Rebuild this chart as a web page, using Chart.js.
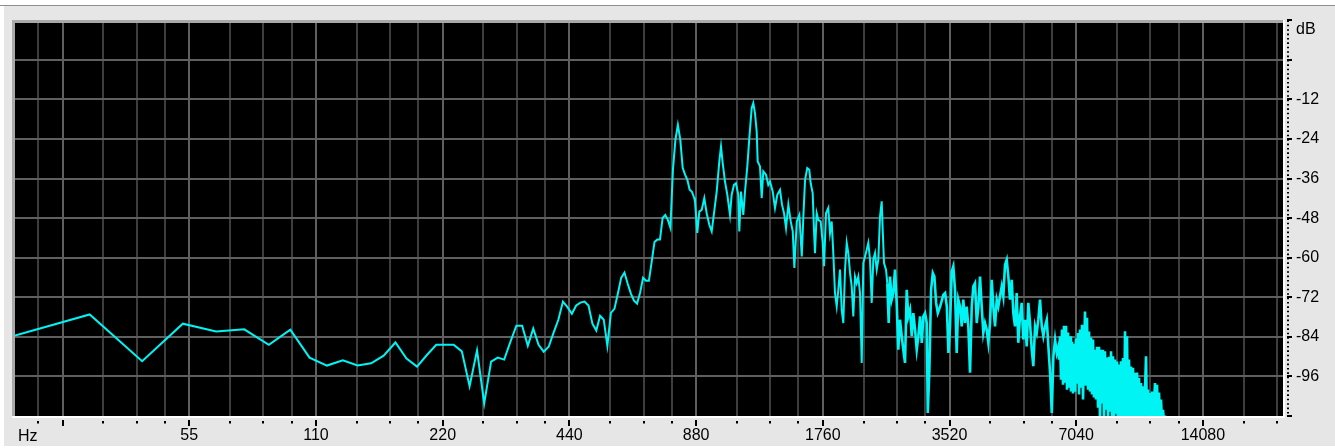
<!DOCTYPE html>
<html>
<head>
<meta charset="utf-8">
<script src="https://cdn.jsdelivr.net/npm/chart.js@4.4.1/dist/chart.umd.min.js"></script>
<style>
  html, body { margin: 0; padding: 0; background: #ffffff; overflow: hidden; }
  #wrap { width: 1335px; height: 448px; }
</style>
</head>
<body>
<div id="wrap"><canvas id="spectrum" width="1335" height="448"></canvas></div>
<script>
// Spectrum: frequency (Hz) and level (dB)
const freqHz = [
  21.2, 31.9, 42.5, 53.1, 63.7, 74.3, 85.0, 95.6, 106.2, 116.8,
  127.4, 138.1, 148.7, 159.3, 169.9, 180.5, 191.2, 201.8, 212.4, 223.0,
  233.6, 244.3, 254.9, 265.5, 276.1, 286.7, 297.4, 308.0, 318.6, 329.2,
  339.8, 350.5, 361.1, 371.7, 382.3, 392.9, 403.6, 414.2, 424.8, 435.4,
  446.0, 456.7, 467.3, 477.9, 488.5, 499.1, 509.8, 520.4, 531.0, 541.6,
  552.2, 562.9, 573.5, 584.1, 594.7, 605.3, 616.0, 626.6, 637.2, 647.8,
  658.4, 669.1, 679.7, 690.3, 700.9, 711.5, 722.2, 732.8, 743.4, 754.0,
  764.6, 775.3, 785.9, 796.5, 807.1, 817.7, 828.4, 839.0, 849.6, 860.2,
  870.8,
  874.7, 885.8, 895.6, 907.4, 920.4, 932.5, 945.9, 958.5, 970.6, 985.1,
  999.2, 1008.5, 1017.9, 1030.7, 1043.9, 1059.3, 1069.1, 1082.7, 1094.6, 1108.5,
  1114.6, 1125.1, 1139.3, 1150.0, 1164.6, 1177.4, 1192.9, 1203.4, 1214.6, 1225.9,
  1232.6, 1248.2, 1259.9, 1271.0, 1289.8, 1306.2, 1318.4, 1338.0, 1355.0, 1372.2,
  1392.7, 1408.0, 1423.6, 1439.3, 1457.6, 1476.9, 1493.2, 1506.4, 1526.3, 1548.2,
  1568.6, 1582.4, 1597.2, 1616.6, 1634.5, 1647.1, 1665.2, 1677.1, 1686.3, 1702.1,
  1717.1, 1739.8, 1759.0, 1771.6, 1791.2, 1813.7, 1830.8, 1847.8, 1864.0, 1881.4,
  1899.0, 1915.8, 1933.7, 1951.8, 1969.1, 1987.6, 2006.0, 2023.8, 2042.8, 2061.5,
  2079.6, 2099.0, 2118.5, 2137.2, 2157.2, 2177.5, 2196.7, 2217.1, 2237.8, 2257.6,
  2278.7, 2300.0, 2320.2, 2341.9, 2363.7, 2384.6, 2406.8, 2429.2, 2442.5, 2460.0,
  2486.9, 2504.7, 2523.8, 2542.0, 2565.6, 2588.3, 2612.4, 2636.8, 2660.1, 2685.1,
  2710.0, 2734.0, 2759.7, 2785.4, 2809.8, 2836.2, 2862.8, 2888.0, 2915.3, 2942.5,
  2968.4, 2996.2, 3024.4, 3051.0, 3079.5, 3108.3, 3125.4, 3152.9, 3182.4, 3212.2,
  3240.5, 3271.0, 3301.6, 3343.5, 3404.7, 3436.6, 3468.8, 3499.4, 3529.6, 3562.6,
  3593.9, 3627.4, 3661.5, 3693.5, 3728.0, 3762.9, 3796.0, 3831.5, 3867.4, 3901.6,
  3938.2, 3975.1, 4010.0, 4047.6, 4085.7, 4121.6, 4159.2, 4198.0, 4234.9, 4274.3,
  4314.5, 4352.8, 4393.3, 4434.1, 4473.6, 4515.1, 4557.3, 4597.5, 4640.4, 4683.7,
  4724.9, 4769.2, 4813.6, 4856.5, 4900.9, 4947.0, 4990.7, 5037.1, 5083.9, 5128.6,
  5176.5, 5224.7, 5270.8, 5320.1, 5370.1, 5417.3, 5468.0, 5519.4, 5567.9, 5619.7,
  5672.5, 5722.1, 5776.0, 5830.5, 5881.9, 5936.8, 5992.4, 6045.6, 6101.9, 6158.9,
  6213.2, 6271.2, 6329.7, 6385.3,
  6408, 6443, 6478, 6514, 6549, 6585, 6622, 6658, 6694, 6731,
  6768, 6805, 6842, 6880, 6918, 6956, 6994, 7032, 7071, 7110,
  7149, 7188, 7227, 7267, 7307, 7387, 7428, 7468, 7509, 7551,
  7592, 7634, 7676, 7718, 7760, 7803, 7845, 7888, 7932, 7975,
  8019, 8063, 8107, 8152, 8196, 8241, 8287, 8332, 8378, 8424,
  8470, 8517, 8563, 8610, 8657, 8705, 8753, 8801, 8849, 8898,
  8946, 8995, 9045, 9094, 9144, 9195, 9245, 9295, 9346, 9398,
  9449, 9501, 9553, 9606, 9658, 9711, 9765, 9818, 9872, 9926,
  9981, 10035, 10091, 10146, 10202, 10314, 10370, 10427, 10484, 10542,
  10600, 10658, 10717, 10834, 10894, 10954, 11014, 11074, 11135, 11196,
  11257, 11319, 11381, 11444, 11506
];

const levelDb = [
  -83.6, -77.2, -91.4, -80.0, -82.4, -81.7, -86.4, -81.8, -90.3, -92.7,
  -91.1, -92.7, -92.0, -89.7, -85.7, -90.6, -93.0, -89.5, -86.4, -86.4,
  -86.4, -88.4, -99.0, -88.1, -104.2, -91.5, -90.3, -90.9, -85.5, -80.6,
  -80.6, -86.7, -81.5, -86.4, -88.5, -87.0, -82.7, -78.8, -73.3, -75.0,
  -77.0, -74.5, -73.6, -73.3, -74.5, -80.0, -82.1, -77.6, -78.8, -86.7,
  -76.7, -75.5, -70.9, -66.1, -64.5, -67.9, -70.9, -73.0, -73.9, -70.6,
  -66.1, -67.0, -67.0, -61.2, -55.2, -54.5, -54.5, -47.9, -47.0, -48.5,
  -50.9, -33.3, -24.2, -19.7, -24.2, -32.7, -34.8, -36.4, -39.4, -40.0,
  -41.8,
  -42.9, -52.5, -46.0, -45.5, -41.9, -46.5, -50.0, -52.0, -46.5, -39.9,
  -30.8, -26.3, -31.3, -36.9, -40.9, -47.0, -40.9, -37.9, -37.4, -40.9,
  -52.0, -39.9, -47.0, -39.9, -32.3, -23.7, -14.6, -13.1, -16.2, -21.7,
  -30.8, -32.3, -41.9, -33.8, -34.8, -37.9, -36.9, -39.9, -44.9, -40.9,
  -39.4, -43.9, -46.5, -51.0, -43.9, -49.0, -52.0, -63.1, -49.0, -47.0,
  -59.6, -47.5, -36.4, -32.8, -33.3, -37.4, -40.4, -51.5, -58.6, -46.5,
  -48.5, -49.0, -55.5, -62.6, -46.5, -44.9, -52.5, -49.0, -58.6, -70.7,
  -74.8, -69.7, -63.6, -75.8, -79.8, -63.6, -55.5, -58.6, -64.6, -68.7,
  -77.8, -65.7, -67.7, -65.7, -70.7, -91.9, -61.6, -59.6, -57.6, -55.5,
  -60.6, -73.7, -60.6, -58.6, -63.6, -60.6, -47.5, -42.9, -51.5, -61.6,
  -63.6, -67.7, -79.8, -65.7, -72.7, -70.7, -63.6, -73.7, -87.9, -78.8,
  -83.8, -87.9, -91.9, -69.7, -77.8, -75.8, -83.8, -76.8, -81.8, -87.9,
  -83.8, -77.8, -85.8, -77.8, -76.8, -79.8, -107.1, -93.9, -69.7, -64.6,
  -65.7, -73.7, -76.8, -74.8, -71.2, -70.7, -74.8, -88.9, -80.8, -64.2,
  -62.6, -69.7, -88.9, -72.7, -74.8, -80.8, -72.7, -79.8, -74.8, -80.8,
  -94.9, -74.8, -68.7, -67.7, -79.8, -74.8, -65.7, -74.8, -82.8, -79.8,
  -81.8, -85.8, -79.8, -66.7, -74.8, -80.8, -72.7, -74.8, -71.7, -68.7,
  -71.7, -62.1, -60.6, -65.7, -72.7, -66.7, -76.8, -80.8, -70.7, -85.8,
  -77.8, -73.7, -84.8, -78.8, -86.9, -73.7, -79.8, -87.9, -92.9, -80.8,
  -82.8, -78.8, -72.7, -80.8, -83.8, -80.8, -78.8, -86.9, -94.9, -107.1,
  -89.9, -84.8, -88.9, -86.9,
  -90.9, -83.8, -97.0, -81.8, -98.5, -80.6, -97.9, -80.6, -100.0, -82.7,
  -99.4, -83.8, -100.6, -85.5, -101.2, -86.1, -100.6, -84.5, -98.2, -82.8,
  -101.5, -81.8, -99.4, -80.3, -103.0, -76.3, -98.8, -78.2, -100.0, -82.4,
  -100.6, -84.2, -101.5, -84.8, -102.4, -87.9, -103.0, -87.0, -105.5, -87.0,
  -110, -87.9, -104.2, -87.9, -110, -88.4, -106.1, -90.3, -110, -90.0,
  -106.7, -88.4, -110, -89.9, -110, -90.9, -107.3, -91.5, -110, -92.4,
  -110, -91.4, -110, -90.4, -110, -82.3, -110, -83.8, -110, -90.9,
  -110, -93.0, -110, -93.4, -110, -94.9, -110, -94.8, -110, -96.4,
  -110, -98.0, -110, -99.0, -110, -89.9, -110, -100.0, -110, -101.0,
  -110, -100.6, -110, -98.0, -110, -98.5, -110, -100.9, -110, -103.0,
  -110, -106.1, -110, -107.9, -114
];

// Octave grid (A notes) and its labels
const octaveHz = [27.5, 55, 110, 220, 440, 880, 1760, 3520, 7040, 14080];
const octaveLabels = ['', '55', '110', '220', '440', '880', '1760', '3520', '7040', '14080'];
const octaveSteps = [1.25, 1.5, 1.75];
const dbTicks = [0, -12, -24, -36, -48, -60, -72, -84, -96];
const dbMarks = [12, 0, -12, -24, -36, -48, -60, -72, -84, -96, -108];

const F_MIN = 21.2, F_MAX = 21820;
const DB_MIN = -108, DB_MAX = 11.2;

const FONT = "'Liberation Sans', Arial, sans-serif";

// tick list: octave lines plus their 1.25 / 1.5 / 1.75 subdivisions
function buildFreqTicks() {
  const ticks = [];
  const pre = 13.75 * 1.75;
  if (pre >= F_MIN) ticks.push({ value: pre, major: false });
  octaveHz.forEach(base => {
    ticks.push({ value: base, major: true });
    octaveSteps.forEach(m => {
      const v = base * m;
      if (v < F_MAX) ticks.push({ value: v, major: false });
    });
  });
  return ticks;
}

const panel = {
  id: 'panel',
  beforeDraw(chart) {
    const { ctx, chartArea: a, width, height } = chart;
    ctx.save();
    ctx.fillStyle = '#ffffff';
    ctx.fillRect(0, 0, width, height);
    ctx.fillStyle = '#e6e6e6';
    ctx.fillRect(4, 6, width - 4, height - 8);
    ctx.fillStyle = '#8e8e8e';
    ctx.fillRect(0, 5, width, 1);
    // sunken frame around the plot
    ctx.fillStyle = '#a9a9a9';
    ctx.fillRect(a.left - 3, a.top - 3, a.right - a.left + 3, 3);
    ctx.fillRect(a.left - 3, a.top - 3, 3, a.bottom - a.top + 3);
    ctx.fillStyle = '#ffffff';
    ctx.fillRect(a.left - 3, a.bottom, a.right - a.left + 5, 2);
    ctx.fillRect(a.right, a.top - 3, 2, a.bottom - a.top + 5);
    ctx.fillStyle = '#000000';
    ctx.fillRect(a.left, a.top, a.right - a.left, a.bottom - a.top);
    ctx.restore();
  },
  afterDraw(chart) {
    const { ctx, chartArea: a } = chart;
    const xs = chart.scales.x, ys = chart.scales.y;
    ctx.save();
    ctx.fillStyle = '#000000';
    // frequency tick marks below the plot
    xs.ticks.forEach(t => {
      const px = Math.round(xs.getPixelForValue(t.value));
      if (t.major) ctx.fillRect(px - 1, a.bottom + 4, 2, 6);
      else ctx.fillRect(px - 1, a.bottom + 5, 2, 2.5);
    });
    // dotted level scale on the right
    ctx.strokeStyle = '#000000';
    ctx.lineWidth = 2;
    ctx.setLineDash([1.6, 2.8]);
    ctx.beginPath();
    ctx.moveTo(a.right + 5, ys.getPixelForValue(12));
    ctx.lineTo(a.right + 5, a.bottom + 1);
    ctx.stroke();
    ctx.setLineDash([]);
    dbMarks.forEach(v => {
      const py = Math.round(ys.getPixelForValue(v));
      ctx.fillRect(a.right + 4, py - 1, 5, 2);
    });
    // unit captions
    ctx.font = '16px ' + FONT;
    ctx.textBaseline = 'middle';
    ctx.textAlign = 'left';
    ctx.fillStyle = '#000000';
    ctx.fillText('Hz', 18, 437);
    ctx.fillText('dB', a.right + 13, 30);
    ctx.restore();
  }
};

const points = freqHz.map((f, i) => ({ x: f, y: levelDb[i] }));

new Chart(document.getElementById('spectrum'), {
  type: 'line',
  data: {
    datasets: [{
      data: points,
      borderColor: '#00f4f4',
      borderWidth: 2,
      pointRadius: 0,
      tension: 0,
      fill: false,
      segment: {
        // bins crowd together above ~2.5 kHz, so the trace reads heavier there
        borderWidth: c => (c.p0.parsed.x > 2500 ? 2.6 : 2)
      }
    }]
  },
  options: {
    responsive: false,
    animation: false,
    devicePixelRatio: 1,
    layout: { padding: { left: 15, top: 23, right: 0, bottom: 0 } },
    plugins: { legend: { display: false }, tooltip: { enabled: false } },
    scales: {
      x: {
        type: 'logarithmic',
        position: 'bottom',
        min: F_MIN,
        max: F_MAX,
        afterBuildTicks: s => { s.ticks = buildFreqTicks(); },
        afterFit: s => { s.height = 32; },
        border: { display: false },
        grid: {
          drawTicks: false,
          lineWidth: 2,
          color: c => (c.tick && c.tick.major) ? '#5f5f5f' : '#3d3d3d'
        },
        ticks: {
          autoSkip: false,
          maxRotation: 0,
          padding: 10,
          color: '#000000',
          font: { family: FONT, size: 16 },
          callback: (v) => {
            const i = octaveHz.indexOf(v);
            return i >= 0 ? octaveLabels[i] : '';
          }
        }
      },
      y: {
        type: 'linear',
        position: 'right',
        min: DB_MIN,
        max: DB_MAX,
        afterBuildTicks: s => { s.ticks = dbTicks.map(v => ({ value: v })); },
        afterFit: s => { s.width = 52; },
        border: { display: false },
        grid: { drawTicks: false, lineWidth: 2, color: '#5f5f5f' },
        ticks: {
          padding: 13,
          color: '#000000',
          font: { family: FONT, size: 16 },
          callback: v => (v === 0 ? '' : String(v))
        }
      }
    }
  },
  plugins: [panel]
});
</script>
</body>
</html>
